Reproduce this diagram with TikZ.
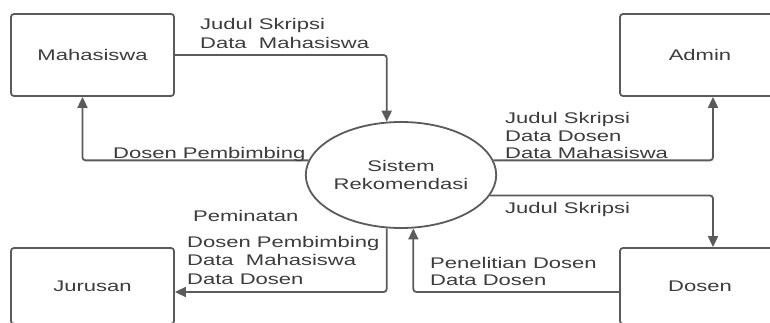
\documentclass[tikz,border=0pt]{standalone}
\usepackage{fontspec}
\setmainfont{Liberation Sans}[FakeStretch=1.43]
\usetikzlibrary{arrows.meta,shapes.geometric,calc}
\definecolor{edgegray}{HTML}{5B5B5B}
\definecolor{inkgray}{HTML}{3C3C3C}
\begin{document}
\begin{tikzpicture}[x=1pt,y=-1pt,
  every node/.style={text=inkgray, font=\fontsize{15.4}{18}\selectfont},
  entity/.style={draw=edgegray, line width=1.8pt, rounded corners=3pt,
    minimum width=163pt, minimum height=82pt, inner sep=0pt, fill=white},
  proc/.style={ellipse, draw=edgegray, line width=1.8pt, align=center,
    minimum width=162pt, minimum height=106pt, inner sep=0pt},
  flow/.style={draw=edgegray, line width=1.8pt, rounded corners=3pt,
    -{Triangle[length=11pt,width=10pt]}},
  lbl/.style={anchor=base west, align=left, inner sep=0pt}
]
\useasboundingbox (0,0) rectangle (770,323);
\clip (0,0) rectangle (770,323);
\fill[white] (0,0) rectangle (770,323);

% external entities
\node[entity] (mhs) at (92.5,55) {Mahasiswa};
\node[entity, minimum width=160pt] (adm) at (700,55) {Admin};
\node[entity, minimum height=76pt] (jur) at (92.5,286) {Jurusan};
\node[entity, minimum width=160pt, minimum height=76pt] (dos) at (700,286) {Dosen};

% process
\node[proc, font=\fontsize{15.4}{18}\selectfont] (sys) at (401,175) {Sistem\\Rekomendasi};

% data flows
\draw[flow] (mhs.east) -| (sys.105);
\draw[flow] (sys.171) -| ([xshift=-10pt]mhs.south);
\draw[flow] (sys.9) -| ([xshift=13pt]adm.south);
\draw[flow] (sys.347) -| ([xshift=13pt]dos.north);
\draw[flow] ([yshift=-6pt]dos.west) -| (sys.283);
\draw[flow] (sys.255) |- ([yshift=-6pt]jur.east);

% flow labels (multi-line labels are placed by the baseline of their last line)
\node[lbl, font=\fontsize{15.4}{19}\selectfont] (la) at (200,48.5) {Judul Skripsi\\Data~~Mahasiswa};
\node[lbl] (lb) at (113,158.5) {Dosen Pembimbing};
\node[lbl, font=\fontsize{15.4}{17.5}\selectfont] (lc) at (505,159) {Judul Skripsi\\Data Dosen\\Data Mahasiswa};
\node[lbl] (ld) at (505,213) {Judul Skripsi};
\node[lbl, font=\fontsize{15.4}{17}\selectfont] (le) at (430,285) {Penelitian Dosen\\Data Dosen};
\node[lbl] (lf) at (193,221) {Peminatan};
\node[lbl, font=\fontsize{15.4}{18.5}\selectfont] (lg) at (187,284) {Dosen Pembimbing\\Data~~Mahasiswa\\Data Dosen};
\end{tikzpicture}
\end{document}
